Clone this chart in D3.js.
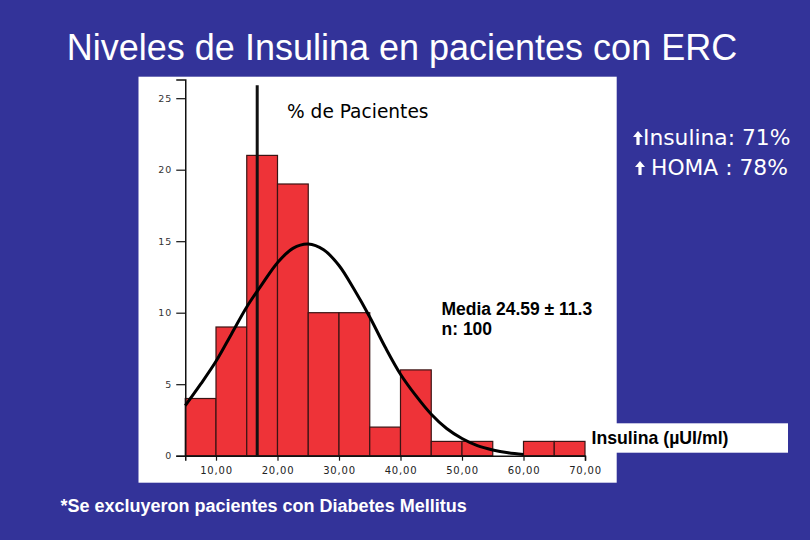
<!DOCTYPE html>
<html>
<head>
<meta charset="utf-8">
<script src="https://cdn.jsdelivr.net/npm/d3@7"></script>
<style>
  html, body { margin: 0; padding: 0; background: #333399; }
  svg { display: block; }
</style>
</head>
<body>
<script>
// histogram bins (lower edge, width 5) and % of patients
const binStart = [5, 10, 15, 20, 25, 30, 35, 40, 45, 50, 55, 60, 65]
const binCount = [4, 9, 21, 19, 10, 10, 2, 6, 1, 1, 0, 1, 1]
const binWidth = 5

// fitted normal curve
const curveX = [5, 7.5, 10, 12.5, 15, 17.5, 20, 22.5, 25, 27.5, 30, 32.5, 35, 37.5, 40, 42.5, 45, 47.5, 50, 52.5, 55, 57.5, 60]
const curveY = [3.5, 5.0, 6.6, 8.5, 10.4, 12.0, 13.5, 14.5, 14.8, 14.4, 13.3, 11.6, 9.7, 7.6, 5.7, 4.2, 2.9, 1.9, 1.2, 0.7, 0.4, 0.2, 0.08]

const refLine = 16.7
const xTicks = [10, 20, 30, 40, 50, 60, 70]
const yTicks = [0, 5, 10, 15, 20, 25]

init()

function init(){
    let svg = d3.select('body')
                .append('svg')
                .attr('width', 810)
                .attr('height', 540)

    svg.append('rect')
        .attr('width', 810)
        .attr('height', 540)
        .style('fill', '#333399')

    // white panels
    svg.append('rect')
        .attr('x', 138.5).attr('y', 76.7)
        .attr('width', 478.2).attr('height', 406)
        .style('fill', '#ffffff')
    svg.append('rect')
        .attr('x', 616).attr('y', 423.3)
        .attr('width', 172).attr('height', 29.4)
        .style('fill', '#ffffff')

    const x = d3.scaleLinear().domain([5, 70]).range([185.25, 585])
    const y = d3.scaleLinear().domain([0, 26.3]).range([455.7, 79.6])

    // bars
    svg.append('g')
        .selectAll('rect')
        .data(binStart.map((d, i) => ({x0: d, v: binCount[i]})).filter(d => d.v > 0))
        .join('rect')
        .attr('x', d => x(d.x0))
        .attr('y', d => y(d.v))
        .attr('width', d => x(d.x0 + binWidth) - x(d.x0))
        .attr('height', d => y(0) - y(d.v))
        .style('fill', '#ee3338')
        .style('stroke', '#3a1414')
        .style('stroke-width', 1.2)

    // axes
    let xAxis = svg.append('g')
        .attr('transform', `translate(0,${y(0)})`)
        .call(d3.axisBottom(x).tickValues(xTicks).tickSizeOuter(0).tickSize(5).tickFormat(d => d + ',00'))
    xAxis.select('.domain').style('stroke', '#111').style('stroke-width', 1.5)
    xAxis.selectAll('.tick line').style('stroke', '#111').style('stroke-width', 1.2)
    xAxis.selectAll('.tick text')
        .attr('y', 11)
        .style('font-family', 'DejaVu Sans')
        .style('font-size', '10px')
        .style('letter-spacing', '0.8px')
        .style('fill', '#222')

    let yAxis = svg.append('g')
        .attr('transform', `translate(${x(5)},0)`)
        .call(d3.axisLeft(y).tickValues(yTicks).tickSizeOuter(0).tickSize(9).tickFormat(d => d))
    yAxis.select('.domain').style('stroke', '#111').style('stroke-width', 1.5)
    yAxis.selectAll('.tick line').style('stroke', '#111').style('stroke-width', 1.2)
    yAxis.selectAll('.tick text')
        .attr('x', -13)
        .style('font-family', 'DejaVu Sans')
        .style('font-size', '9.5px')
        .style('letter-spacing', '1px')
        .style('fill', '#333')

    // reference line
    svg.append('line')
        .attr('x1', x(refLine)).attr('x2', x(refLine))
        .attr('y1', y(25.9)).attr('y2', y(0))
        .style('stroke', '#111')
        .style('stroke-width', 3)

    // normal curve
    let line = d3.line()
        .x(d => x(d[0]))
        .y(d => y(d[1]))
        .curve(d3.curveCatmullRom)
    svg.append('path')
        .datum(curveX.map((d, i) => [d, curveY[i]]))
        .attr('d', line)
        .style('fill', 'none')
        .style('stroke', '#000')
        .style('stroke-width', 3)

    // texts
    svg.append('text')
        .attr('x', 402).attr('y', 60)
        .attr('text-anchor', 'middle')
        .style('font-family', 'Liberation Sans, Arial')
        .style('font-size', '36px')
        .style('fill', '#ffffff')
        .text('Niveles de Insulina en pacientes con ERC')

    svg.append('text')
        .attr('x', 287).attr('y', 118)
        .style('font-family', 'DejaVu Sans')
        .style('font-size', '18.6px')
        .style('fill', '#000')
        .text('% de Pacientes')

    const arrow = 'M0,-14 L5,-8 L1.6,-8 L1.6,0 L-1.6,0 L-1.6,-8 L-5,-8 Z'
    svg.append('path').attr('d', arrow).attr('transform', 'translate(638,145)').style('fill', '#fff')
    svg.append('path').attr('d', arrow).attr('transform', 'translate(640,175)').style('fill', '#fff')

    svg.append('text')
        .attr('x', 643).attr('y', 145)
        .style('font-family', 'DejaVu Sans')
        .style('font-size', '21.8px')
        .style('fill', '#fff')
        .text('Insulina: 71%')
    svg.append('text')
        .attr('x', 651).attr('y', 175)
        .style('font-family', 'DejaVu Sans')
        .style('font-size', '21.8px')
        .style('fill', '#fff')
        .text('HOMA : 78%')

    svg.append('text')
        .attr('x', 441.5).attr('y', 315)
        .style('font-family', 'Liberation Sans, Arial')
        .style('font-weight', 'bold')
        .style('font-size', '17.5px')
        .style('fill', '#000')
        .text('Media 24.59 \u00b1 11.3')
    svg.append('text')
        .attr('x', 441.5).attr('y', 334.5)
        .style('font-family', 'Liberation Sans, Arial')
        .style('font-weight', 'bold')
        .style('font-size', '17.5px')
        .style('fill', '#000')
        .text('n: 100')

    svg.append('text')
        .attr('x', 591.5).attr('y', 444)
        .style('font-family', 'Liberation Sans, Arial')
        .style('font-weight', 'bold')
        .style('font-size', '17.7px')
        .style('fill', '#000')
        .text('Insulina (\u00b5UI/ml)')

    svg.append('text')
        .attr('x', 60.5).attr('y', 512)
        .style('font-family', 'Liberation Sans, Arial')
        .style('font-weight', 'bold')
        .style('font-size', '18px')
        .style('fill', '#fff')
        .text('*Se excluyeron pacientes con Diabetes Mellitus')
}
</script>
</body>
</html>
